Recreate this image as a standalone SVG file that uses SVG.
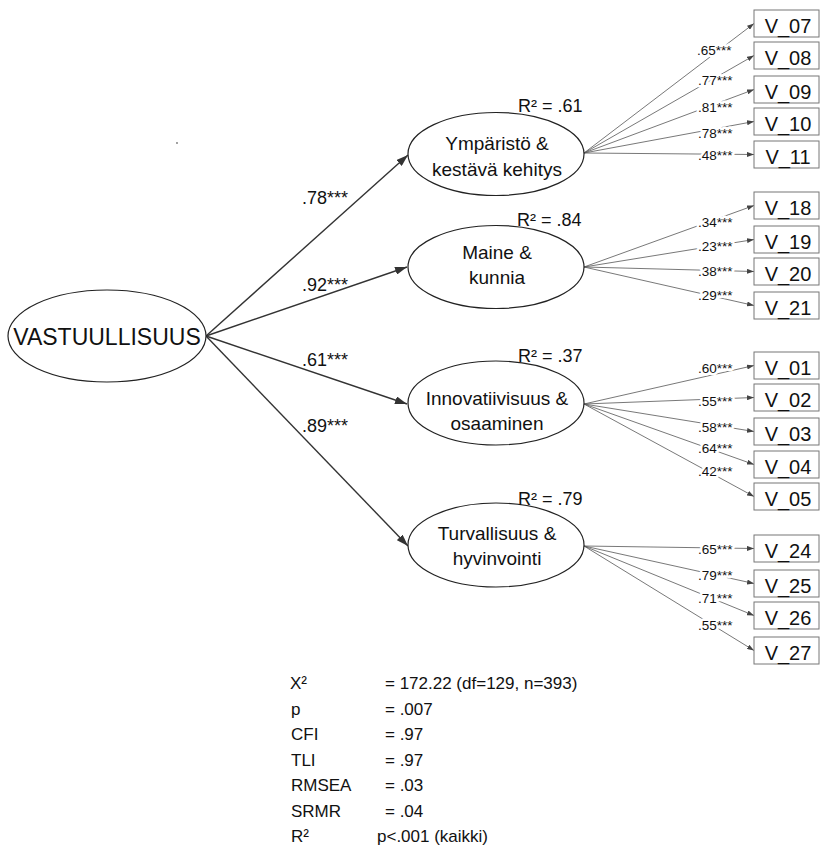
<svg xmlns="http://www.w3.org/2000/svg" width="821" height="846" viewBox="0 0 821 846">
  <style>
    text { font-family: "Liberation Sans", Arial, sans-serif; fill: #111; }
    .lat { fill: #fff; stroke: #222; stroke-width: 1.2; }
    .lat-t { font-size: 19px; text-anchor: middle; }
    .big-t { font-size: 23px; text-anchor: middle; }
    .r2 { font-size: 18px; }
    .obs { fill: #fff; stroke: #777; stroke-width: 1; }
    .obs-t { font-size: 20px; text-anchor: middle; }
    .path { stroke: #333; stroke-width: 1.4; fill: none; marker-end: url(#ah); }
    .load { stroke: #555; stroke-width: 0.8; fill: none; marker-end: url(#ahs); }
    .coef { font-size: 18px; }
    .lcoef { font-size: 13.5px; stroke: #fff; stroke-width: 5; paint-order: stroke; stroke-linejoin: round; }
    .fit { font-size: 17px; }
  </style>
  <defs>
    <marker id="ah" viewBox="0 0 12 8" refX="12" refY="4" markerWidth="12" markerHeight="8" markerUnits="userSpaceOnUse" orient="auto">
      <path d="M0,0 L12,4 L0,8 z" fill="#333"/>
    </marker>
    <marker id="ahs" viewBox="0 0 7 5" refX="7" refY="2.5" markerWidth="7" markerHeight="5" markerUnits="userSpaceOnUse" orient="auto">
      <path d="M0,0 L7,2.5 L0,5 z" fill="#444"/>
    </marker>
  </defs>

  <rect width="821" height="846" fill="#fff"/>
  <circle cx="177" cy="143" r="0.9" fill="#777"/>

  <!-- connectors -->
  <g id="connectors">
    <!-- second-order paths -->
    <line class="path" x1="206" y1="336" x2="408" y2="155"/>
    <line class="path" x1="206" y1="336" x2="407" y2="267"/>
    <line class="path" x1="206" y1="336" x2="407" y2="404"/>
    <line class="path" x1="206" y1="336" x2="408" y2="546"/>
    <!-- loadings: Ympäristö -->
    <line class="load" x1="584" y1="153" x2="754" y2="23.5"/>
    <line class="load" x1="584" y1="153" x2="754" y2="55.5"/>
    <line class="load" x1="584" y1="153" x2="754" y2="89.5"/>
    <line class="load" x1="584" y1="153" x2="754" y2="121.5"/>
    <line class="load" x1="584" y1="153" x2="754" y2="154.5"/>
    <!-- loadings: Maine -->
    <line class="load" x1="584" y1="267" x2="754" y2="205.5"/>
    <line class="load" x1="584" y1="267" x2="754" y2="239.5"/>
    <line class="load" x1="584" y1="267" x2="754" y2="271.5"/>
    <line class="load" x1="584" y1="267" x2="754" y2="305.5"/>
    <!-- loadings: Innovatiivisuus -->
    <line class="load" x1="584" y1="404" x2="754" y2="365.5"/>
    <line class="load" x1="584" y1="404" x2="754" y2="397.5"/>
    <line class="load" x1="584" y1="404" x2="754" y2="431.5"/>
    <line class="load" x1="584" y1="404" x2="754" y2="464.5"/>
    <line class="load" x1="584" y1="404" x2="754" y2="496.5"/>
    <!-- loadings: Turvallisuus -->
    <line class="load" x1="584" y1="546" x2="754" y2="548.5"/>
    <line class="load" x1="584" y1="546" x2="754" y2="583.5"/>
    <line class="load" x1="584" y1="546" x2="754" y2="615.5"/>
    <line class="load" x1="584" y1="546" x2="754" y2="650.5"/>

    <!-- path coefficients -->
    <text class="coef" x="302" y="204">.78***</text>
    <text class="coef" x="302" y="291">.92***</text>
    <text class="coef" x="302" y="366">.61***</text>
    <text class="coef" x="302" y="432">.89***</text>

    <!-- loading coefficients -->
    <text class="lcoef" x="697" y="55">.65***</text>
    <text class="lcoef" x="698" y="85">.77***</text>
    <text class="lcoef" x="698" y="112">.81***</text>
    <text class="lcoef" x="698" y="138">.78***</text>
    <text class="lcoef" x="698" y="160">.48***</text>

    <text class="lcoef" x="698" y="227">.34***</text>
    <text class="lcoef" x="698" y="251">.23***</text>
    <text class="lcoef" x="698" y="276">.38***</text>
    <text class="lcoef" x="698" y="300">.29***</text>

    <text class="lcoef" x="698" y="373">.60***</text>
    <text class="lcoef" x="698" y="406">.55***</text>
    <text class="lcoef" x="698" y="432">.58***</text>
    <text class="lcoef" x="698" y="453">.64***</text>
    <text class="lcoef" x="698" y="476">.42***</text>

    <text class="lcoef" x="698" y="554">.65***</text>
    <text class="lcoef" x="698" y="580">.79***</text>
    <text class="lcoef" x="698" y="603">.71***</text>
    <text class="lcoef" x="698" y="630">.55***</text>
  </g>

  <!-- latent factors -->
  <g id="vastuullisuus">
    <ellipse class="lat" cx="107" cy="336" rx="99" ry="46"/>
    <text class="big-t" x="107" y="345">VASTUULLISUUS</text>
  </g>
  <g id="ymparisto">
    <ellipse class="lat" cx="496" cy="154" rx="88" ry="41.5"/>
    <text class="lat-t" x="497" y="150">Ympäristö &amp;</text>
    <text class="lat-t" x="497" y="176">kestävä kehitys</text>
    <text class="r2" x="518" y="112">R² = .61</text>
  </g>
  <g id="maine">
    <ellipse class="lat" cx="496" cy="267" rx="88" ry="41.5"/>
    <text class="lat-t" x="497" y="259">Maine &amp;</text>
    <text class="lat-t" x="497" y="284">kunnia</text>
    <text class="r2" x="517" y="226">R² = .84</text>
  </g>
  <g id="innovatiivisuus">
    <ellipse class="lat" cx="496" cy="403" rx="88" ry="42"/>
    <text class="lat-t" x="497" y="405">Innovatiivisuus &amp;</text>
    <text class="lat-t" x="497" y="430">osaaminen</text>
    <text class="r2" x="518" y="362">R² = .37</text>
  </g>
  <g id="turvallisuus">
    <ellipse class="lat" cx="496" cy="545" rx="88" ry="42"/>
    <text class="lat-t" x="497" y="540">Turvallisuus &amp;</text>
    <text class="lat-t" x="497" y="565">hyvinvointi</text>
    <text class="r2" x="518" y="505">R² = .79</text>
  </g>

  <!-- observed indicators -->
  <g id="v07"><rect class="obs" x="754" y="10" width="65" height="27"/><text class="obs-t" x="788" y="33">V_07</text></g>
  <g id="v08"><rect class="obs" x="754" y="42" width="65" height="27"/><text class="obs-t" x="788" y="65">V_08</text></g>
  <g id="v09"><rect class="obs" x="754" y="76" width="65" height="27"/><text class="obs-t" x="788" y="99">V_09</text></g>
  <g id="v10"><rect class="obs" x="754" y="108" width="65" height="27"/><text class="obs-t" x="788" y="131">V_10</text></g>
  <g id="v11"><rect class="obs" x="754" y="141" width="65" height="27"/><text class="obs-t" x="788" y="164">V_11</text></g>

  <g id="v18"><rect class="obs" x="754" y="192" width="65" height="27"/><text class="obs-t" x="788" y="215">V_18</text></g>
  <g id="v19"><rect class="obs" x="754" y="226" width="65" height="27"/><text class="obs-t" x="788" y="249">V_19</text></g>
  <g id="v20"><rect class="obs" x="754" y="258" width="65" height="27"/><text class="obs-t" x="788" y="281">V_20</text></g>
  <g id="v21"><rect class="obs" x="754" y="292" width="65" height="27"/><text class="obs-t" x="788" y="315">V_21</text></g>

  <g id="v01"><rect class="obs" x="754" y="352" width="65" height="27"/><text class="obs-t" x="788" y="375">V_01</text></g>
  <g id="v02"><rect class="obs" x="754" y="384" width="65" height="27"/><text class="obs-t" x="788" y="407">V_02</text></g>
  <g id="v03"><rect class="obs" x="754" y="418" width="65" height="27"/><text class="obs-t" x="788" y="441">V_03</text></g>
  <g id="v04"><rect class="obs" x="754" y="451" width="65" height="27"/><text class="obs-t" x="788" y="474">V_04</text></g>
  <g id="v05"><rect class="obs" x="754" y="483" width="65" height="27"/><text class="obs-t" x="788" y="506">V_05</text></g>

  <g id="v24"><rect class="obs" x="754" y="535" width="65" height="27"/><text class="obs-t" x="788" y="558">V_24</text></g>
  <g id="v25"><rect class="obs" x="754" y="570" width="65" height="27"/><text class="obs-t" x="788" y="593">V_25</text></g>
  <g id="v26"><rect class="obs" x="754" y="602" width="65" height="27"/><text class="obs-t" x="788" y="625">V_26</text></g>
  <g id="v27"><rect class="obs" x="754" y="637" width="65" height="27"/><text class="obs-t" x="788" y="660">V_27</text></g>

  <!-- fit indices -->
  <g id="fit">
    <text class="fit" x="290" y="689">X²</text>
    <text class="fit" x="385" y="689">= 172.22 (df=129, n=393)</text>
    <text class="fit" x="291" y="715">p</text>
    <text class="fit" x="385" y="715">= .007</text>
    <text class="fit" x="291" y="740">CFI</text>
    <text class="fit" x="385" y="740">= .97</text>
    <text class="fit" x="291" y="766">TLI</text>
    <text class="fit" x="385" y="766">= .97</text>
    <text class="fit" x="291" y="791">RMSEA</text>
    <text class="fit" x="385" y="791">= .03</text>
    <text class="fit" x="291" y="817">SRMR</text>
    <text class="fit" x="385" y="817">= .04</text>
    <text class="fit" x="291" y="842">R²</text>
    <text class="fit" x="377" y="842">p&lt;.001 (kaikki)</text>
  </g>
</svg>
